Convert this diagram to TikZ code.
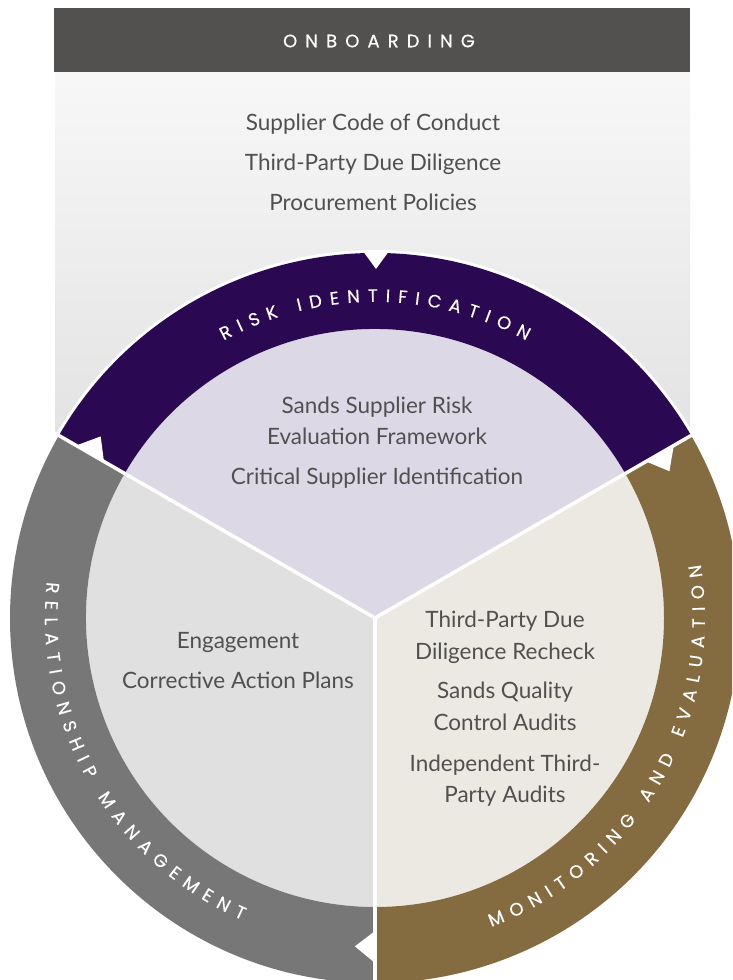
\documentclass[tikz,border=0pt]{standalone}
\usepackage{fontspec}
\setmainfont{Lato}
\newfontfamily\ringfont[FakeBold=0.3]{Poppins}
\newfontfamily\barfont[LetterSpace=45,FakeBold=0.5]{Poppins}
\usetikzlibrary{decorations.text}

\definecolor{riskpurple}{RGB}{42,8,82}
\definecolor{relgray}{RGB}{119,119,119}
\definecolor{monolive}{RGB}{133,108,64}
\definecolor{riskfill}{RGB}{221,216,230}
\definecolor{relfill}{RGB}{224,224,224}
\definecolor{monfill}{RGB}{236,233,227}
\definecolor{barfill}{RGB}{82,81,79}
\definecolor{bodygray}{RGB}{80,80,80}

\newcommand{\ringsize}{\ringfont\fontsize{18}{18}\selectfont}

\tikzset{
  bodytext/.style={font=\fontsize{22.5}{26}\selectfont, text=bodygray, anchor=base, inner sep=0pt},
  barlabel/.style={font=\barfont\fontsize{18}{20}\selectfont, text=white, inner sep=0pt}
}

% one coloured piece of the ring
\newcommand{\ringpart}[3]
{
  \fill[#3] (#1:289) arc (#1:#2:289) -- (#2:365) arc (#2:#1:365) -- cycle;
}
% white notch where a piece of the ring starts
\newcommand{\notch}[1]
{
  \fill[white] (#1:313) -- (#1-3.5:329) -- (#1:345) -- cycle;
}
% letter-spaced white caps along an arc
\newcommand{\ringlabel}[4]
{
  \path[decorate,
    decoration={text effects along path, text={#4}, text align=center,
      text effects/.cd, text along path,
      characters={text=white, font=\ringsize},
      character widths={font=\ringsize, inner xsep=3.9pt}}]
    (#1:#3) arc (#1:#2:#3);
}

\begin{document}
\begin{tikzpicture}[x=1pt,y=1pt]
    \useasboundingbox (0,0) rectangle (732,980);
    \clip (0,0) rectangle (732,980);

    % onboarding bar and panel
    \shade[top color=white!97!black, bottom color=white!89!black] (55,544) rectangle (690,908);
    \fill[barfill] (54,908) rectangle (690,972);
    \node[barlabel] (onb) at (379,939) {ONBOARDING};

    \coordinate (hub) at (375,362);
    \begin{scope}[shift={(hub)}]
      \fill[white] (0,0) circle (368);
      % inner sectors
      \fill[riskfill] (0,0) -- (30:289) arc (30:150:289) -- cycle;
      \fill[relfill] (0,0) -- (150:289) arc (150:270:289) -- cycle;
      \fill[monfill] (0,0) -- (270:289) arc (270:390:289) -- cycle;
      % ring
      \ringpart{30}{150}{riskpurple}
      \ringpart{150}{270}{relgray}
      \ringpart{270}{390}{monolive}
      \foreach \a in {30,150,270}
        \draw[white, line width=3.5pt] (0,0) -- (\a:372);
      \notch{150}
      \notch{30}
      \notch{270}
      \fill[white] (-12.5,367.5) -- (1,349) -- (14.5,367.5) -- cycle;
      % ring labels
      \ringlabel{150}{30}{316}{RISK IDENTIFICATION}
      \ringlabel{150}{270}{330}{RELATIONSHIP MANAGEMENT}
      \ringlabel{270}{390}{330}{MONITORING AND EVALUATION}
    \end{scope}

    % texts
    \foreach \ty/\tx [count=\i] in {131/Supplier Code of Conduct, 171/Third-Party Due Diligence, 211/Procurement Policies}
      \node[bodytext] (onb\i) at (373,980-\ty) {\tx};
    \foreach \ty/\tx [count=\i] in {414/Sands Supplier Risk, 445/Evaluation Framework, 485/Critical Supplier Identification}
      \node[bodytext] (risk\i) at (377,980-\ty) {\tx};
    \foreach \ty/\tx [count=\i] in {649/Engagement, 689/Corrective Action Plans}
      \node[bodytext] (rel\i) at (238,980-\ty) {\tx};
    \foreach \ty/\tx [count=\i] in {628/Third-Party Due, 660/Diligence Recheck, 699/Sands Quality, 731/Control Audits, 772/Independent Third-, 803/Party Audits}
      \node[bodytext] (mon\i) at (505,980-\ty) {\tx};
\end{tikzpicture}
\end{document}
